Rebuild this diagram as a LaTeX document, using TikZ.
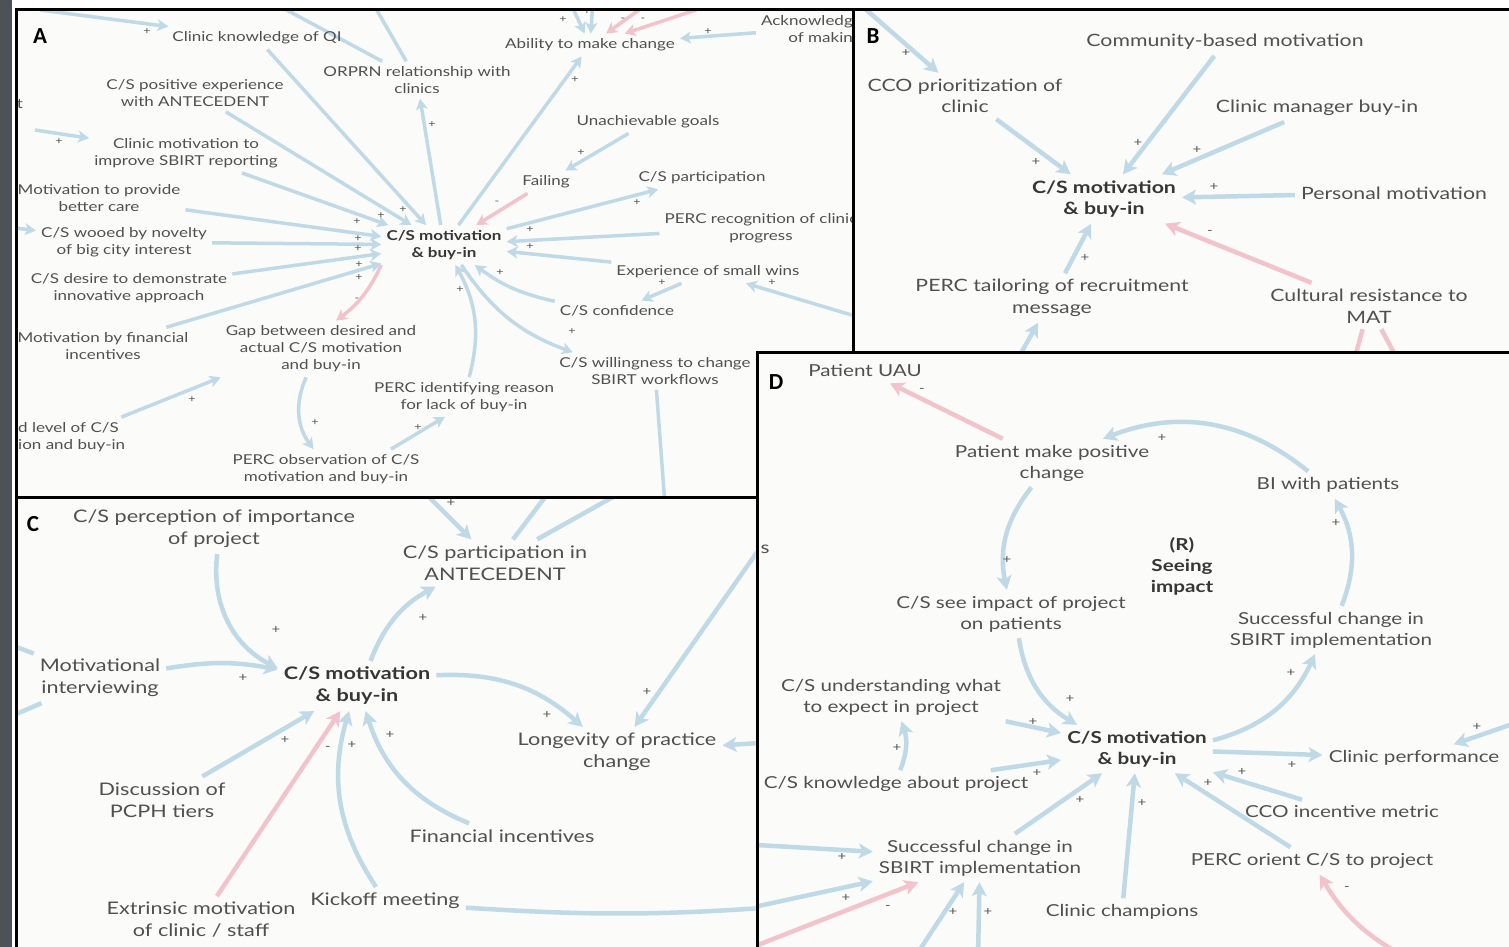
\documentclass[tikz,border=0pt]{standalone}
\usepackage{fontspec}
\setmainfont{Lato}[FakeStretch=1.25]
\newfontfamily\panelfont{Carlito}
\usetikzlibrary{arrows.meta}

\definecolor{lb}{HTML}{BFDAE6}
\definecolor{pk}{HTML}{F2C3CA}
\definecolor{txt}{HTML}{505050}
\definecolor{txtb}{HTML}{363636}
\definecolor{sgn}{HTML}{555555}
\definecolor{panelbg}{HTML}{FBFBFA}
\definecolor{strip}{HTML}{4B5258}

\pgfdeclarelayer{Afill}\pgfdeclarelayer{Aedge}\pgfdeclarelayer{Atext}
\pgfdeclarelayer{Bfill}\pgfdeclarelayer{Bedge}\pgfdeclarelayer{Btext}
\pgfdeclarelayer{Cfill}\pgfdeclarelayer{Cedge}\pgfdeclarelayer{Ctext}
\pgfdeclarelayer{Dfill}\pgfdeclarelayer{Dedge}\pgfdeclarelayer{Dtext}
\pgfsetlayers{main,Afill,Aedge,Atext,Bfill,Bedge,Btext,Cfill,Cedge,Ctext,Dfill,Dedge,Dtext}

\tikzset{
  lblA/.style={font=\fontsize{13.6}{17}\selectfont, text=txt, align=center, inner xsep=5pt, inner ysep=5pt},
  lblAb/.style={lblA, font=\bfseries\fontsize{13.6}{17}\selectfont, text=txtb},
  lblB/.style={font=\fontsize{17}{21.5}\selectfont, text=txt, align=center, inner xsep=6pt, inner ysep=6pt},
  lblBb/.style={lblB, font=\bfseries\fontsize{17}{21.5}\selectfont, text=txtb},
  lblC/.style={font=\fontsize{17.3}{22}\selectfont, text=txt, align=center, inner xsep=6pt, inner ysep=6pt},
  lblCb/.style={lblC, font=\bfseries\fontsize{17.3}{22}\selectfont, text=txtb},
  lblD/.style={font=\fontsize{16.5}{21}\selectfont, text=txt, align=center, inner xsep=6pt, inner ysep=6pt},
  lblDb/.style={lblD, font=\bfseries\fontsize{16.5}{21}\selectfont, text=txtb},
  posA/.style={draw=lb, line width=3.5pt, -{Stealth[length=11pt,width=12pt,inset=3pt]}},
  negA/.style={posA, draw=pk},
  linkA/.style={draw=lb, line width=3.5pt},
  plusarr/.style={draw=lb, line width=4.5pt, -{Stealth[length=14pt,width=15pt,inset=3.5pt]}},
  minusarr/.style={plusarr, draw=pk},
  plainarr/.style={draw=lb, line width=4.5pt},
  plainneg/.style={plainarr, draw=pk},
  sgA/.style={font=\fontsize{10}{10}\selectfont, text=sgn, inner sep=0pt},
  sgn/.style={font=\fontsize{12}{12}\selectfont, text=sgn, inner sep=0pt},
  letter/.style={font=\panelfont\bfseries\fontsize{23}{23}\selectfont, text=black, inner sep=0pt},
  panelframe/.style={draw=black, line width=3pt},
}

\begin{document}
\begin{tikzpicture}[x=1pt,y=1pt]
\useasboundingbox (0,0) rectangle (1509,-947);
\fill[white] (0,0) rectangle (1509,-947);
\fill[strip] (0,0) rectangle (12,-947);

% ================= Panel A =================
\begin{pgfonlayer}{Afill}
\fill[panelbg] (16,-10) rectangle (853,-497);
\end{pgfonlayer}
\begin{pgfonlayer}{Atext}
\begin{scope}
\clip (17.5,-11.5) rectangle (851.5,-495.5);
\node[letter] (aL) at (40,-36) {A};
\node[lblA] (aCQI) at (257,-38) {Clinic knowledge of QI};
\node[lblA] (aORP) at (417,-80) {ORPRN relationship with\\clinics};
\node[lblA] (aAbl) at (590,-45) {Ability to make change};
\node[lblA, align=right, anchor=east] (aAck) at (858,-29) {Acknowledg\\of makin};
\node[lblA] (aPos) at (195,-93) {C/S positive experience\\with ANTECEDENT};
\node[lblA] (aT) at (20,-104) {t};
\node[lblA] (aMot) at (186,-153) {Clinic motivation to\\improve SBIRT reporting};
\node[lblA] (aCare) at (99,-198) {Motivation to provide\\better care};
\node[lblA] (aWoo) at (124,-242) {C/S wooed by novelty\\of big city interest};
\node[lblA] (aDes) at (129,-288) {C/S desire to demonstrate\\innovative approach};
\node[lblA] (aFin) at (103,-346) {Motivation by financial\\incentives};
\node[lblA, align=left, anchor=west] (aLvl) at (13,-437) {d level of C/S\\ion and buy-in};
\node[lblAb] (aCS) at (444,-245) {C/S motivation\\ \& buy-in};
\node[lblA] (aUna) at (648,-122) {Unachievable goals};
\node[lblA] (aFail) at (546,-182) {Failing};
\node[lblA] (aPart) at (702,-178) {C/S participation};
\node[lblA] (aRec) at (761,-228) {PERC recognition of clinic\\progress};
\node[lblA] (aExp) at (708,-272) {Experience of small wins};
\node[lblA] (aConf) at (617,-311) {C/S confidence};
\node[lblA] (aGap) at (321,-349) {Gap between desired and\\actual C/S motivation\\and buy-in};
\node[lblA] (aPid) at (464,-397) {PERC identifying reason\\for lack of buy-in};
\node[lblA] (aWil) at (655,-371) {C/S willingness to change\\SBIRT workflows};
\node[lblA] (aObs) at (326,-469) {PERC observation of C/S\\motivation and buy-in};

\foreach \x/\y [count=\i] in {147/32, 432/125, 59/142, 403/210, 381/216, 357/222, 358/239,
  358/249, 359/265, 359/278, 192/400, 315/423, 418/428, 563/20, 587/12, 708/32, 575/80,
  581/153, 637/203, 530/230, 530/247, 500/273, 460/290, 662/283, 772/283, 572/332}
  \node[sgA] (pa\i) at (\x,-\y) {+};
\foreach \x/\y [count=\i] in {357/300, 623/20, 643/20, 497/203}
  \node[sgA] (ma\i) at (\x,-\y) {-};
\end{scope}
\draw[panelframe] (16,-10) rectangle (853,-497);
\end{pgfonlayer}

\coordinate (cA1) at (40,-10);
\coordinate (cA2) at (268,0);
\coordinate (cA3) at (371,0);
\coordinate (cA4) at (569,0);
\coordinate (cA5) at (593,0);
\coordinate (cA6) at (653,0);
\coordinate (cA7) at (726,0);
\coordinate (cA8) at (875,-322);
\coordinate (cA9) at (35,-130);
\coordinate (cA10) at (0,-226);
\coordinate (cA11) at (665,-505);

\begin{pgfonlayer}{Aedge}
\begin{scope}
\clip (17.5,-11.5) rectangle (851.5,-495.5);
\draw[posA] (cA1) -- (aCQI);
\draw[linkA] (aORP) -- (cA2);
\draw[linkA] (aORP) -- (cA3);
\draw[posA] (aCQI) -- (aCS);
\draw[posA] (aPos) -- (aCS);
\draw[posA] (aMot) -- (aCS);
\draw[posA] (aCare) -- (aCS);
\draw[posA] (aWoo) -- (aCS);
\draw[posA] (aDes) -- (aCS);
\draw[posA] (aFin) -- (aCS);
\draw[negA] (aCS.south west) to[bend left=14] (aGap.62);
\draw[posA] (aLvl) -- (aGap.south west);
\draw[posA] (aGap) to[bend right=30] (aObs);
\draw[posA] (aObs.17) -- (aPid.226);
\draw[posA] (aPid) to[bend right=22] (aCS);
\draw[posA] (aCS) to[bend right=18] (aWil);
\draw[posA] (aConf) to[bend left=12] (aCS);
\draw[posA] (aExp) -- (aConf);
\draw[posA] (cA8) -- (aExp);
\draw[posA] (aExp) -- (aCS);
\draw[posA] (aRec) -- (aCS);
\draw[posA] (aCS) -- (aPart);
\draw[posA] (aUna) -- (aFail);
\draw[negA] (aFail) -- (aCS);
\draw[posA] (aCS) -- (aAbl);
\draw[posA] (aCS) -- (aORP);
\draw[posA] (cA4) -- (aAbl);
\draw[posA] (cA5) -- (aAbl);
\draw[negA] (cA6) -- (aAbl);
\draw[negA] (cA7) -- (aAbl);
\draw[posA] (aAck) -- (aAbl);
\draw[posA] (cA9) -- (aMot);
\draw[posA] (cA10) -- (aWoo);
\draw[linkA] (aWil) -- (cA11);
\end{scope}
\end{pgfonlayer}

% ================= Panel B =================
\begin{pgfonlayer}{Bfill}
\fill[panelbg] (853,-10) rectangle (1515,-352);
\end{pgfonlayer}
\begin{pgfonlayer}{Btext}
\begin{scope}
\clip (854.5,-11.5) rectangle (1515,-350.5);
\node[letter] (bL) at (873,-36) {B};
\node[lblB] (bCom) at (1225,-42) {Community-based motivation};
\node[lblB] (bCCO) at (965,-96) {CCO prioritization of\\clinic};
\node[lblB] (bMgr) at (1317,-108) {Clinic manager buy-in};
\node[lblBb] (bCS) at (1104,-199) {C/S motivation\\ \& buy-in};
\node[lblB] (bPer) at (1394,-193) {Personal motivation};
\node[lblB] (bPTL) at (1052,-298) {PERC tailoring of recruitment\\message};
\node[lblB] (bCul) at (1369,-306) {Cultural resistance to\\MAT};
\foreach \x/\y [count=\i] in {906/53, 1036/162, 1138/143, 1197/150, 1214/187, 1085/258}
  \node[sgn] (pb\i) at (\x,-\y) {+};
\node[sgn] (mb1) at (1210,-232) {-};
\end{scope}
\draw[panelframe] (853,-10) rectangle (1515,-352);
\end{pgfonlayer}

\coordinate (cB1) at (855,0);
\coordinate (cB2) at (1016,-362);
\coordinate (cB3) at (1352,-368);
\coordinate (cB4) at (1403,-370);

\begin{pgfonlayer}{Bedge}
\begin{scope}
\clip (854.5,-11.5) rectangle (1515,-350.5);
\draw[plusarr] (cB1) -- (bCCO);
\draw[plusarr] (bCCO) -- (bCS);
\draw[plusarr] (bCom) -- (bCS);
\draw[plusarr] (bMgr) -- (bCS);
\draw[plusarr] (bPer) -- (bCS);
\draw[minusarr] (bCul) -- (bCS);
\draw[plusarr] (bPTL) -- (bCS);
\draw[plusarr] (cB2) -- (bPTL);
\draw[plainneg] (bCul) -- (cB3);
\draw[plainneg] (bCul) -- (cB4);
\end{scope}
\end{pgfonlayer}

% ================= Panel C =================
\begin{pgfonlayer}{Cfill}
\fill[panelbg] (16,-497) rectangle (757,-952);
\end{pgfonlayer}
\begin{pgfonlayer}{Ctext}
\begin{scope}
\clip (17.5,-498.5) rectangle (755.5,-952);
\node[letter] (cL) at (33,-524) {C};
\node[lblC] (cPer) at (214,-529) {C/S perception of importance\\of project};
\node[lblC] (cPar) at (495,-563) {C/S participation in\\ANTECEDENT};
\node[lblC] (cMI) at (100,-678) {Motivational\\interviewing};
\node[lblCb] (cCS) at (357,-686) {C/S motivation\\ \& buy-in};
\node[lblC] (cLon) at (617,-752) {Longevity of practice\\change};
\node[lblC] (cDis) at (162,-800) {Discussion of\\PCPH tiers};
\node[lblC] (cFin) at (502,-836) {Financial incentives};
\node[lblC] (cExt) at (201,-920) {Extrinsic motivation\\of clinic / staff};
\node[lblC] (cKic) at (385,-901) {Kickoff meeting};
\foreach \x/\y [count=\i] in {276/630, 243/678, 285/740, 352/745, 451/503, 423/618, 547/715,
  647/692, 390/735}
  \node[sgn] (pc\i) at (\x,-\y) {+};
\node[sgn] (mc1) at (328,-748) {-};
\end{scope}
\draw[panelframe] (16,-497) rectangle (757,-952);
\end{pgfonlayer}

\coordinate (cC1) at (420,-488);
\coordinate (cC2) at (552,-488);
\coordinate (cC3) at (629,-488);
\coordinate (cC4) at (762,-545);
\coordinate (cC5) at (775,-742);
\coordinate (cC6) at (790,-906);
\coordinate (cC7) at (0,-641);
\coordinate (cC8) at (0,-721);

\begin{pgfonlayer}{Cedge}
\begin{scope}
\clip (17.5,-498.5) rectangle (755.5,-952);
\draw[plusarr] (cC1) -- (cPar);
\draw[plainarr] (cPar) -- (cC2);
\draw[plainarr] (cPar) -- (cC3);
\draw[plusarr] (cPer) to[bend right=35] (cCS);
\draw[plusarr] (cMI) to[bend left=10] (cCS);
\draw[plusarr] (cDis) -- (cCS);
\draw[minusarr] (cExt) -- (cCS);
\draw[plusarr] (cKic) to[bend left=25] (cCS);
\draw[plusarr] (cFin) to[bend left=25] (cCS);
\draw[plusarr] (cCS) to[bend left=20] (cPar);
\draw[plusarr] (cCS) to[bend left=22] (cLon);
\draw[plusarr] (cC4) -- (cLon);
\draw[plusarr] (cC5) -- (cLon);
\draw[plainarr] (cKic) to[bend right=4] (cC6);
\draw[plainarr] (cMI) -- (cC7);
\draw[plainarr] (cMI) -- (cC8);
\end{scope}
\end{pgfonlayer}

% ================= Panel D =================
\begin{pgfonlayer}{Dfill}
\fill[panelbg] (757,-352) rectangle (1515,-952);
\end{pgfonlayer}
\begin{pgfonlayer}{Dtext}
\begin{scope}
\clip (758.5,-353.5) rectangle (1515,-952);
\node[letter] (dL) at (776,-382) {D};
\node[lblD] (dS) at (765,-549) {s};
\node[lblD] (dUAU) at (865,-371) {Patient UAU};
\node[lblD] (dPMC) at (1052,-463) {Patient make positive\\change};
\node[lblD] (dBI) at (1328,-485) {BI with patients};
\node[lblDb] (dR) at (1182,-566) {(R)\\Seeing\\impact};
\node[lblD] (dSee) at (1011,-614) {C/S see impact of project\\on patients};
\node[lblD] (dSCR) at (1331,-630) {Successful change in\\SBIRT implementation};
\node[lblD] (dUnd) at (891,-697) {C/S understanding what\\to expect in project};
\node[lblDb] (dCS) at (1137,-749) {C/S motivation\\ \& buy-in};
\node[lblD] (dPerf) at (1414,-758) {Clinic performance};
\node[lblD] (dKno) at (896,-784) {C/S knowledge about project};
\node[lblD] (dCCO) at (1342,-812) {CCO incentive metric};
\node[lblD] (dSCL) at (980,-858) {Successful change in\\SBIRT implementation};
\node[lblD] (dPO) at (1312,-861) {PERC orient C/S to project};
\node[lblD] (dCh) at (1122,-912) {Clinic champions};
\foreach \x/\y [count=\i] in {1007/560, 1162/438, 1336/523, 1070/699, 1033/722, 897/748,
  1037/773, 1080/800, 842/857, 846/898, 953/912, 988/912, 1291/673, 1477/727, 1292/765,
  1242/772, 1208/783, 1142/803}
  \node[sgn] (pd\i) at (\x,-\y) {+};
\foreach \x/\y [count=\i] in {922/390, 888/907, 1347/888}
  \node[sgn] (md\i) at (\x,-\y) {-};
\end{scope}
\draw[panelframe] (757,-352) rectangle (1515,-952);
\end{pgfonlayer}

\coordinate (cD1) at (740,-844);
\coordinate (cD2) at (740,-910);
\coordinate (cD3) at (740,-952);
\coordinate (cD4) at (915,-957);
\coordinate (cD5) at (978,-957);
\coordinate (cD6) at (1530,-718);
\coordinate (cD7) at (1405,-957);

\begin{pgfonlayer}{Dedge}
\begin{scope}
\clip (758.5,-353.5) rectangle (1515,-952);
\draw[minusarr] (dPMC) -- (dUAU);
\draw[plusarr] (dBI) to[bend right=30] (dPMC);
\draw[plusarr] (dSCR) to[bend right=25] (dBI);
\draw[plusarr] (dPMC) to[bend right=25] (dSee);
\draw[plusarr] (dSee) to[bend right=25] (dCS);
\draw[plusarr] (dUnd) -- (dCS);
\draw[plusarr] (dKno) to[bend right=20] (dUnd);
\draw[plusarr] (dKno) -- (dCS);
\draw[plusarr] (dSCL) -- (dCS);
\draw[plusarr] (cD1) -- (dSCL);
\draw[plusarr] (cD2) -- (dSCL);
\draw[minusarr] (cD3) -- (dSCL);
\draw[plusarr] (cD4) -- (dSCL);
\draw[plusarr] (cD5) -- (dSCL);
\draw[plusarr] (dCh) -- (dCS);
\draw[plusarr] (dCS) to[bend right=25] (dSCR);
\draw[plusarr] (dCS) -- (dPerf);
\draw[plusarr] (cD6) -- (dPerf);
\draw[plusarr] (dCCO) -- (dCS);
\draw[plusarr] (dPO) -- (dCS);
\draw[minusarr] (cD7) to[bend left=15] (dPO);
\end{scope}
\end{pgfonlayer}
\end{tikzpicture}
\end{document}
